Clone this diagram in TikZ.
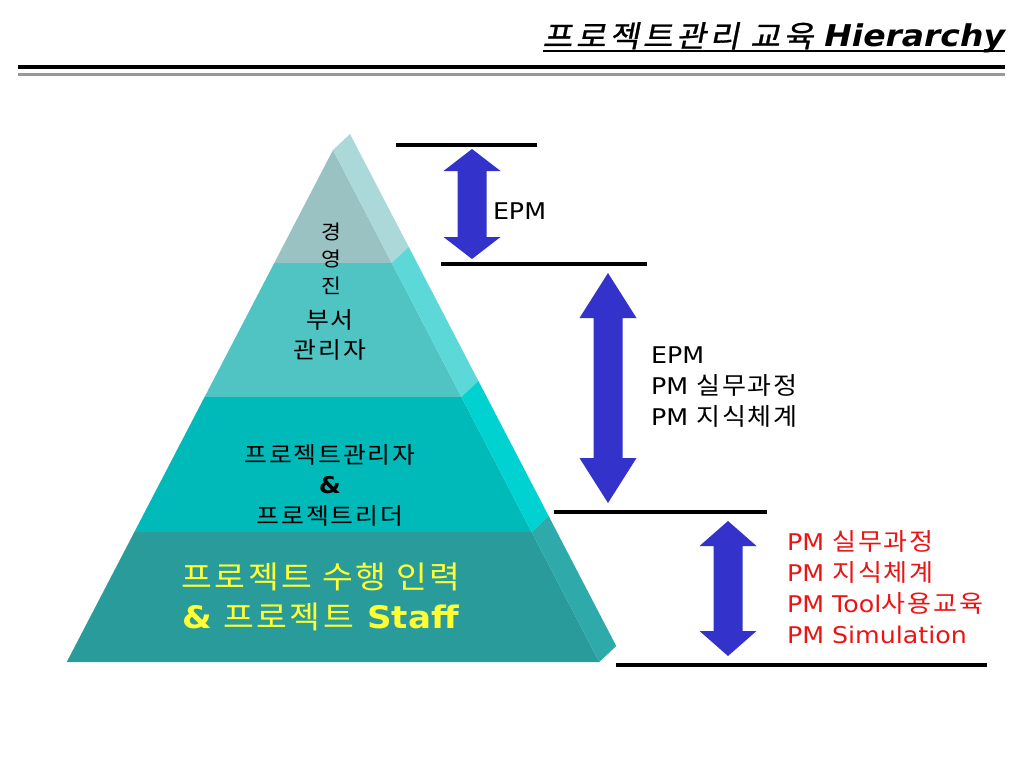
\documentclass[tikz,border=0pt]{standalone}
\usepackage{fontspec}
\setmainfont{DejaVu Sans}[FakeStretch=1.1]
\newfontfamily\krfont{Noto Sans CJK KR}[FakeStretch=1.08, LetterSpace=8]
\newfontfamily\krwide{Noto Sans CJK KR}[Scale=1.05, FakeStretch=1.08, LetterSpace=8]
\newfontfamily\krslant{Noto Sans CJK KR}[FakeSlant=0.2, FakeBold=1, FakeStretch=1.08, LetterSpace=12]
\newcommand{\kr}[1]{{\krfont #1}}
\newcommand{\krw}[1]{{\krwide #1}}
\usepackage{tikz}
\usetikzlibrary{calc}

\definecolor{tierf1}{RGB}{155,194,194}
\definecolor{tiers1}{RGB}{171,217,217}
\definecolor{tierf2}{RGB}{80,195,195}
\definecolor{tiers2}{RGB}{92,216,216}
\definecolor{tierf3}{RGB}{0,185,185}
\definecolor{tiers3}{RGB}{0,210,210}
\definecolor{tierf4}{RGB}{42,155,155}
\definecolor{tiers4}{RGB}{47,170,170}
\definecolor{arrowblue}{RGB}{51,51,204}
\definecolor{pmred}{RGB}{235,20,20}
\definecolor{staffyellow}{RGB}{255,255,51}
\definecolor{titlegray}{RGB}{153,153,153}

\begin{document}
\begin{tikzpicture}[
    x=1pt, y=-1pt,
    every node/.style={inner sep=0pt, outer sep=0pt},
    hrule/.style={line width=4pt, black}, % level lines
    barrow/.style={fill=arrowblue}, % block arrows
    krlabel/.style={align=center, font=\krfont\fontsize{23}{30.5}\selectfont},
    pmtext/.style={anchor=base west, font=\fontsize{23}{23}\selectfont}
]
    \useasboundingbox (0,0) rectangle (1024,768);

    % 1. title and rules under it
    \node[anchor=base east] (title) at (1005,47) {\krslant\fontsize{30}{30}\selectfont 프로젝트관리 교육 {\rmfamily\bfseries\itshape Hierarchy}};
    \draw[line width=1.5pt] ($(title.base west)+(0,4)$) -- ($(title.base east)+(0,4)$);
    \draw[line width=4pt] (18,67) -- (1005,67);
    \draw[line width=3pt, titlegray] (18,74) -- (1005,74);

    % 2. pyramid: front face and right side face per tier
    \foreach \ya/\yb/\n in {150/263/1, 263/397/2, 397/532/3, 532/662/4} {
        \pgfmathsetmacro\la{333-0.52*(\ya-150)}
        \pgfmathsetmacro\ra{333+0.52*(\ya-150)}
        \pgfmathsetmacro\lb{333-0.52*(\yb-150)}
        \pgfmathsetmacro\rb{333+0.52*(\yb-150)}
        \fill[tierf\n] (\la,\ya) -- (\ra,\ya) -- (\rb,\yb) -- (\lb,\yb) -- cycle;
        \fill[tiers\n] (\ra,\ya) -- (\rb,\yb) -- ++(17,-16) -- (\ra+17,\ya-16) -- cycle;
    }

    % 3. labels in the pyramid
    \node[krlabel, font=\krfont\fontsize{20}{27}\selectfont] (board) at (331,259) {경\\영\\진};
    \node[krlabel] (dept) at (330,335) {부서\\관리자};
    \node[krlabel] (pml) at (330,485) {프로젝트관리자\\{\rmfamily\bfseries\&}\\프로젝트리더};
    \node[krlabel, font=\fontsize{31}{40}\selectfont, text=staffyellow] (staff) at (321,597) {\kr{프로젝트 수행 인력}\\\textbf{\&} \kr{프로젝트} \textbf{Staff}};

    % 4. level lines and double block arrows
    \foreach \xa/\xb/\y in {396/537/145, 441/647/264, 554/767/512, 616/987/665}
        \draw[hrule] (\xa,\y) -- (\xb,\y);
    \foreach \cx/\yt/\yb/\h in {472/149/259/22, 608/273/503/45, 728/521/656/25}
        \fill[barrow] (\cx,\yt) -- ++(28.5,\h) -- ++(-14,0) -- (\cx+14.5,\yb-\h) -- ++(14,0) -- (\cx,\yb) -- ++(-28.5,-\h) -- ++(14,0) -- (\cx-14.5,\yt+\h) -- ++(-14,0) -- cycle;

    % 5. courses per level
    \node[pmtext] (epm) at (493,219) {EPM};
    \foreach \t [count=\i] in {EPM, PM \krw{실무과정}, PM \krw{지식체계}}
        \node[pmtext] (mid\i) at (651,332+31*\i) {\t};
    \foreach \t [count=\i] in {PM \krw{실무과정}, PM \krw{지식체계}, PM Tool\krw{사용교육}, PM Simulation}
        \node[pmtext, text=pmred] (low\i) at (787,519+31*\i) {\t};

\end{tikzpicture}
\end{document}
